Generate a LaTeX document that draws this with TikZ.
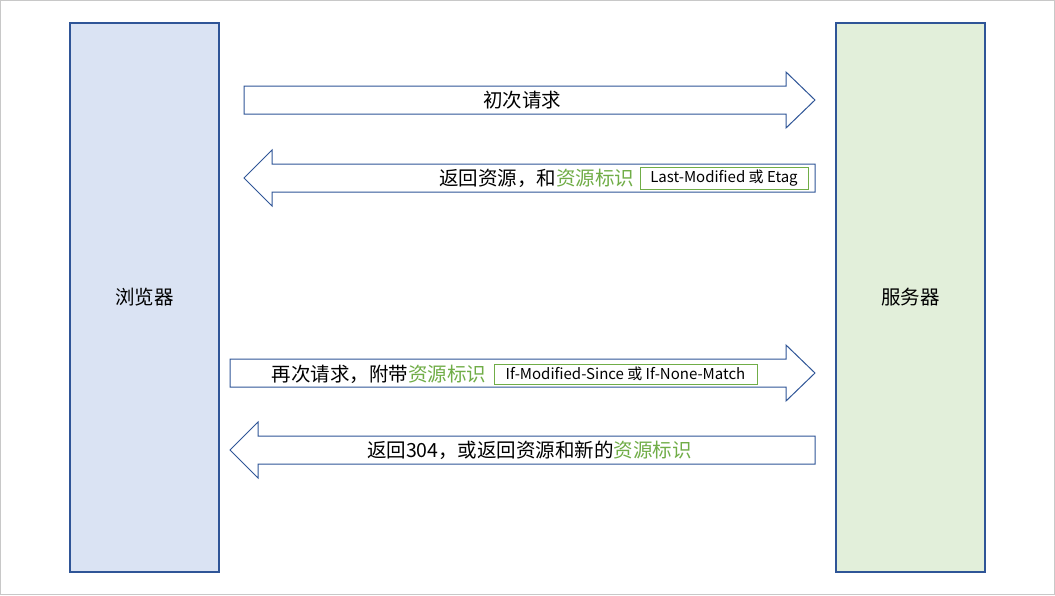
\documentclass[tikz,border=0pt]{standalone}
\usepackage{fontspec}
\setmainfont{Noto Sans CJK SC}
\usetikzlibrary{positioning}
\definecolor{bdblue}{HTML}{2F5597}
\definecolor{fillblue}{HTML}{DAE3F3}
\definecolor{fillgreen}{HTML}{E2EFDA}
\definecolor{tgreen}{HTML}{70AD47}
\definecolor{frame}{HTML}{C8C8C8}
\tikzset{
  party/.style={draw=bdblue, line width=1.2pt, minimum width=149pt, minimum height=549pt, inner sep=0pt, font=\fontsize{19.5}{22}\selectfont},
  blockarrow/.style={draw=bdblue, line width=1pt, fill=white},
  lbl/.style={inner sep=0pt, font=\fontsize{19.5}{22}\selectfont},
  tagbox/.style={draw=tgreen, line width=1pt, inner sep=0pt, font=\fontsize{15}{17}\selectfont},
}
\newcommand{\gr}[1]{\textcolor{tgreen}{#1}}
\begin{document}
\begin{tikzpicture}[x=1pt,y=-1pt]
\useasboundingbox (0,0) rectangle (1055,595);
\draw[frame, line width=1pt] (0.5,0.5) rectangle (1054.5,594.5);
% parties
\node[party, fill=fillblue] (browser) at (144.5,297.5) {浏览器};
\node[party, fill=fillgreen] (server) at (910.5,297.5) {服务器};
% arrow 1 right
\draw[blockarrow] (244,86) -- (786,86) -- (786,72) -- (815,100) -- (786,128) -- (786,114) -- (244,114) -- cycle;
% arrow 2 left
\draw[blockarrow] (815,164) -- (272,164) -- (272,150) -- (244,178) -- (272,206) -- (272,192) -- (815,192) -- cycle;
% arrow 3 right
\draw[blockarrow] (230,359) -- (786,359) -- (786,345) -- (815,373) -- (786,401) -- (786,387) -- (230,387) -- cycle;
% arrow 4 left
\draw[blockarrow] (815,436) -- (258,436) -- (258,422) -- (230,450) -- (258,478) -- (258,464) -- (815,464) -- cycle;
% labels
\node[lbl] (t1) at (522,100) {初次请求};
\node[tagbox, minimum width=168pt, minimum height=22pt] (tag1) at (724,178) {Last-Modified 或 Etag};
\node[lbl, anchor=east] (t2) at ([xshift=-5pt]tag1.west) {返回资源，和\gr{资源标识}};
\node[tagbox, minimum width=263pt, minimum height=20pt] (tag2) at (625.5,374) {If-Modified-Since 或 If-None-Match};
\node[lbl, anchor=east] (t3) at ([xshift=-7pt]tag2.west) {再次请求，附带\gr{资源标识}};
\node[lbl] (t4) at (529.5,450) {返回304，或返回资源和新的\gr{资源标识}};
\end{tikzpicture}
\end{document}
